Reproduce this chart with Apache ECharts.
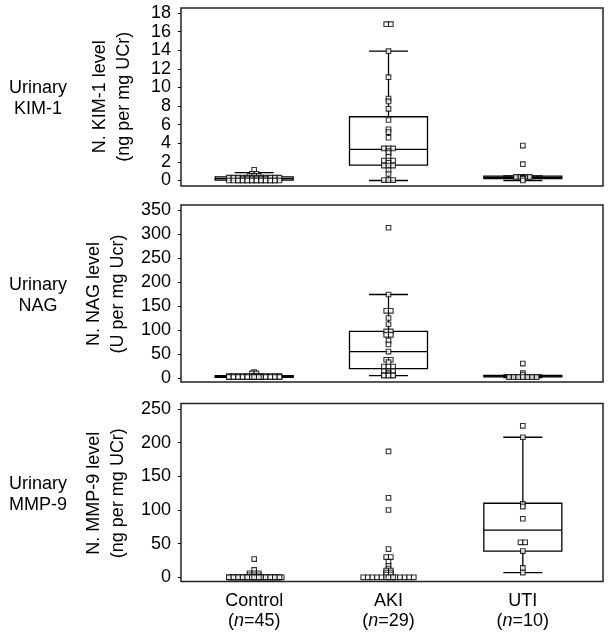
<!DOCTYPE html>
<html><head><meta charset="utf-8">
<script src="https://cdn.jsdelivr.net/npm/echarts@6/dist/echarts.min.js"></script>
<style>html,body{margin:0;padding:0;background:#fff}#c{width:609px;height:637px}</style>
</head><body><div id="c"></div>
<script>
// ---------- data ----------
const categories = ['Control', 'AKI', 'UTI'];
const groupN = [45, 29, 10];
const panelTitles = ['Urinary\nKIM-1', 'Urinary\nNAG', 'Urinary\nMMP-9'];
const axisNames = ['N. KIM-1 level\n(ng per mg UCr)', 'N. NAG level\n(U per mg Ucr)', 'N. MMP-9 level\n(ng per mg UCr)'];
const yMax = [18, 350, 250];
const yInterval = [2, 50, 50];

// KIM-1
const kimControl = [1.15, 0.72, 0.72, 0.5, 0.5, 0.5,
  0.3, 0.3, 0.3, 0.3, 0.3, 0.3, 0.3, 0.3, 0.3, 0.3, 0.3, 0.3,
  0.15, 0.15, 0.15, 0.15, 0.15, 0.15,
  0, 0, 0, 0, 0, 0, 0, 0, 0, 0, 0, 0, 0, 0, 0, 0, 0, 0, 0, 0, 0];
const kimAKI = [16.8, 16.8, 13.9, 11.1, 8.8, 8.5, 7.7, 6.5, 5.5, 5.2, 4.6,
  3.45, 3.45, 3.45, 3.15, 2.95, 2.55, 2.15, 2.15, 2.15, 1.9, 1.6, 1.6, 1.6,
  1.1, 0.7, 0.05, 0.05, 0.05];
const kimUTI = [3.75, 1.75, 0.38, 0.38, 0.38, 0.38, 0.3, 0.25, 0.2, 0];
// box stats: [lower whisker, Q1, median, Q3, upper whisker]
const kimBoxes = [[0, 0.05, 0.2, 0.4, 0.85], [0, 1.65, 3.35, 6.85, 13.9], [0, 0.2, 0.33, 0.47, 0.5]];

// NAG
const nagControl = [12.5, 9.5, 9.5,
  4, 4, 4, 4, 4, 4, 4, 4, 4, 4, 4, 4, 4, 4,
  3, 3, 3, 3, 3, 3, 3, 3, 3, 3, 3, 3, 3, 3,
  2, 2, 2, 2, 2, 2, 2, 2, 2, 2, 2, 2, 2, 2];
const nagAKI = [313, 174, 140, 140, 125, 112, 97, 97, 90, 90, 78, 70, 55,
  38, 38, 33, 24, 24, 24, 14, 14, 14, 10, 6, 6, 6, 5, 5, 5];
const nagUTI = [30, 10, 6, 2, 2, 2, 2, 2, 2, 2];
const nagBoxes = [[0.5, 1.5, 3, 5, 6.5], [5, 19.5, 55, 97, 174], [1, 2.5, 4, 5.5, 6.5]];

// MMP-9
const mmpControl = [27, 11, 6, 6, 6, 3, 3, 3,
  0, 0, 0, 0, 0, 0, 0, 0, 0, 0, 0, 0, 0, 0, 0, 0, 0, 0, 0,
  0, 0, 0, 0, 0, 0, 0, 0, 0, 0, 0, 0, 0, 0, 0, 0, 0, 0, 0];
const mmpAKI = [187, 118, 100, 42, 30, 30, 23, 17, 13, 10, 10, 7, 7, 4, 4,
  0, 0, 0, 0, 0, 0, 0, 0, 0, 0, 0, 0, 0, 0];
const mmpUTI = [225, 208, 109, 105, 87, 52, 52, 39, 14, 7];
const mmpBoxes = [null, null, [7, 39, 70, 110, 208]];

const panelPoints = [[kimControl, kimAKI, kimUTI], [nagControl, nagAKI, nagUTI], [mmpControl, mmpAKI, mmpUTI]];
const panelBoxes = [kimBoxes, nagBoxes, mmpBoxes];

// ---------- layout / style ----------
const FONT = '"Liberation Sans", Arial, Helvetica, sans-serif';
const gridTop = [13, 210, 409];
const gridHeight = [167.5, 168, 168.3];
const frames = [[181, 8, 422, 178], [181, 205, 422, 177], [181, 403.5, 422, 178]];
const BOX_W = 78, CAP_W = 39, LW = 1.3;
const STEP = 4.6, PER_ROW = 12;

function swarm(values, catIdx) {
  const counts = new Map();
  values.forEach(v => counts.set(v, (counts.get(v) || 0) + 1));
  const out = [];
  counts.forEach((n, v) => {
    for (let k = 0; k < n; k++) {
      const layer = Math.floor(k / PER_ROW);
      const inLayer = Math.min(PER_ROW, n - layer * PER_ROW);
      const idx = k - layer * PER_ROW;
      const dx = (idx - (inLayer - 1) / 2) * STEP + (layer % 2 ? STEP / 2 : 0);
      out.push({ value: [catIdx, v], symbolOffset: [dx, 0] });
    }
  });
  return out;
}

function renderBox(params, api) {
  const x = api.value(0);
  const lo = api.coord([x, api.value(1)]);
  const q1 = api.coord([x, api.value(2)]);
  const md = api.coord([x, api.value(3)]);
  const q3 = api.coord([x, api.value(4)]);
  const hi = api.coord([x, api.value(5)]);
  const cx = lo[0];
  const st = { stroke: '#000', lineWidth: LW, fill: null };
  return {
    type: 'group',
    children: [
      { type: 'line', shape: { x1: cx, y1: hi[1], x2: cx, y2: q3[1] }, style: st },
      { type: 'line', shape: { x1: cx, y1: q1[1], x2: cx, y2: lo[1] }, style: st },
      { type: 'line', shape: { x1: cx - CAP_W / 2, y1: hi[1], x2: cx + CAP_W / 2, y2: hi[1] }, style: st },
      { type: 'line', shape: { x1: cx - CAP_W / 2, y1: lo[1], x2: cx + CAP_W / 2, y2: lo[1] }, style: st },
      { type: 'rect', shape: { x: cx - BOX_W / 2, y: q3[1], width: BOX_W, height: q1[1] - q3[1] }, style: { stroke: '#000', lineWidth: LW, fill: 'rgba(0,0,0,0)' } },
      { type: 'line', shape: { x1: cx - BOX_W / 2, y1: md[1], x2: cx + BOX_W / 2, y2: md[1] }, style: st }
    ]
  };
}

const grid = [], xAxis = [], yAxis = [], series = [], graphic = [];
for (let p = 0; p < 3; p++) {
  grid.push({ left: 187, width: 403, top: gridTop[p], height: gridHeight[p] });
  xAxis.push({
    type: 'category', gridIndex: p, data: categories,
    axisLine: { show: false }, axisTick: { show: false }, splitLine: { show: false },
    axisLabel: {
      show: p === 2, margin: 14, fontSize: 18, lineHeight: 20, color: '#000', fontFamily: FONT,
      formatter: (v, i) => v + '\n(' + '{it|n}' + '=' + groupN[i] + ')',
      rich: { it: { fontStyle: 'italic', fontSize: 18, lineHeight: 20, color: '#000', fontFamily: FONT } }
    }
  });
  yAxis.push({
    type: 'value', gridIndex: p, min: 0, max: yMax[p], interval: yInterval[p], offset: 6,
    axisLine: { show: false },
    axisTick: { show: true, length: 3, lineStyle: { color: '#000', width: 1 } },
    splitLine: { show: false },
    axisLabel: { margin: 10, fontSize: 18, color: '#000', fontFamily: FONT },
    name: axisNames[p], nameLocation: 'middle', nameRotate: 90, nameGap: 45,
    nameTextStyle: { fontSize: 18, lineHeight: 24, color: '#000', fontFamily: FONT, align: 'center' }
  });
  const boxData = [];
  panelBoxes[p].forEach((b, i) => { if (b) boxData.push([i].concat(b)); });
  series.push({
    type: 'custom', xAxisIndex: p, yAxisIndex: p, data: boxData,
    encode: { x: 0, y: [1, 2, 3, 4, 5] }, renderItem: renderBox, z: 2, silent: true
  });
  let pts = [];
  panelPoints[p].forEach((vals, i) => { pts = pts.concat(swarm(vals, i)); });
  series.push({
    type: 'scatter', xAxisIndex: p, yAxisIndex: p, data: pts, clip: false,
    symbol: 'rect', symbolSize: 4.6, z: 3, silent: true,
    itemStyle: { color: '#fff', borderColor: '#000', borderWidth: 1.1 }
  });
  const f = frames[p];
  graphic.push({
    type: 'rect', shape: { x: f[0], y: f[1], width: f[2], height: f[3] },
    style: { fill: null, stroke: '#222', lineWidth: 1.5 }, z: 10, silent: true
  });
  graphic.push({
    type: 'text', x: 38, y: f[1] + f[3] / 2 + 2,
    style: { text: panelTitles[p], fontSize: 18, lineHeight: 21, fill: '#000', fontFamily: FONT, align: 'center', verticalAlign: 'middle' }
  });
}

const chart = echarts.init(document.getElementById('c'), null, { renderer: 'canvas' });
chart.setOption({
  animation: false,
  backgroundColor: '#fff',
  grid, xAxis, yAxis, series, graphic
});
</script>
</body></html>
